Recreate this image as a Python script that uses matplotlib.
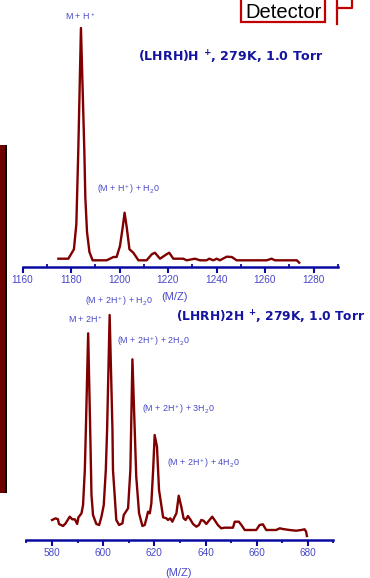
import matplotlib
matplotlib.use("Agg")
import matplotlib.pyplot as plt
from matplotlib.patches import Rectangle
from matplotlib.lines import Line2D
from matplotlib.ticker import MultipleLocator

plt.rcParams['font.family'] = ['Liberation Sans', 'DejaVu Sans']
plt.rcParams['mathtext.fontset'] = 'custom'
plt.rcParams['mathtext.rm'] = 'Liberation Sans'
plt.rcParams['mathtext.it'] = 'Liberation Sans'
plt.rcParams['mathtext.bf'] = 'DejaVu Sans:bold'

# ---------------------------------------------------------------- data ---- #
# (LHRH)H+ spectrum, 279 K, 1.0 Torr
mz_1h = [1174.8, 1178.9, 1181.2, 1182.2, 1183.0, 1184.1, 1185.5, 1185.9, 1186.6,
         1187.6, 1188.9, 1194.7, 1196.1, 1197.5, 1198.8, 1200.2, 1201.3, 1202.1,
         1203.0, 1204.1, 1205.7, 1207.8, 1211.2, 1213.3, 1214.6, 1216.7, 1219.4,
         1220.5, 1222.2, 1226.3, 1227.7, 1231.1, 1233.2, 1235.9, 1237.0, 1238.7,
         1240.1, 1241.4, 1244.2, 1246.3, 1248.3, 1260.7, 1262.7, 1264.1, 1273.1,
         1274.1]
int_1h = [8.3, 8.3, 17.7, 42.7, 116, 239, 116, 70, 35, 15, 6.7, 6.7, 8.3, 10, 10,
          21, 39.3, 54.3, 39.3, 17.7, 14.3, 6.7, 6.7, 12.7, 14.3, 8.3, 12.7, 14.3,
          8.3, 8.3, 6.7, 8.3, 6.7, 6.7, 8.3, 6.7, 8.3, 6.7, 10.3, 10, 6.7, 6.7, 8.3,
          6.7, 6.7, 4.3]

# (LHRH)2H+ spectrum, 279 K, 1.0 Torr
mz_2h = [580.0, 581.4, 582.3, 582.7, 584.3, 585.3, 586.9, 587.9, 588.9, 589.8,
         590.3, 591.5, 592.1, 592.8, 593.2, 594.1, 594.9, 595.4, 596.0, 597.3,
         598.4, 599.3, 600.2, 601.0, 601.5, 602.5, 603.6, 603.8, 604.5, 605.1,
         606.2, 607.5, 608.0, 609.7, 610.6, 611.4, 612.3, 612.9, 614.0, 615.3,
         616.2, 616.8, 617.5, 618.2, 618.8, 619.5, 620.1, 621.0, 621.8, 623.4,
         624.7, 625.3, 626.2, 627.0, 627.8, 628.6, 629.5, 630.5, 631.4, 632.2,
         633.1, 634.0, 635.1, 636.4, 637.4, 638.3, 639.2, 640.3, 641.3, 642.6,
         643.5, 644.8, 646.1, 647.4, 650.7, 651.4, 653.0, 654.0, 655.3, 659.8,
         661.1, 662.4, 663.7, 667.6, 669.0, 670.2, 672.8, 675.4, 677.4, 678.7,
         679.3, 679.6]
int_2h = [20, 21.7, 20.7, 16, 14, 16.7, 23.3, 20.7, 20.7, 16, 22.7, 26.7, 35, 70,
          110, 206.7, 110, 45, 25, 16, 15, 23.3, 35, 70, 110, 225, 110, 70, 43.3,
          20, 15, 16.7, 25, 31.7, 70, 180.7, 110, 63.3, 26.7, 14, 15, 20.7, 28.3,
          26.7, 36.7, 70, 105, 93.3, 50, 22.7, 21.7, 20, 21.7, 18.3, 22.7, 26.7,
          44.3, 33.3, 21.7, 20, 24, 20.7, 16, 13.3, 15, 20, 19.3, 16, 19.3, 23.3,
          20, 15, 11.7, 12.3, 12.3, 18.3, 18.3, 15, 10, 10, 15, 15.7, 10, 10, 11.7,
          11, 10, 9.3, 10, 10.7, 8.3, 4]

W, H = 370, 578
LINE = '#800000'
AXIS = '#0a0aa0'
LABEL = '#4848c8'
TITLE = '#1414a0'


def fx(x):
    return x / W


def fy(y):
    return 1 - y / H


def style_axis(ax, xlim, ylim, minor_dir):
    ax.set_xlim(*xlim)
    ax.set_ylim(*ylim)
    for s in ('top', 'left', 'right'):
        ax.spines[s].set_visible(False)
    ax.spines['bottom'].set_color(AXIS)
    ax.spines['bottom'].set_linewidth(1.8)
    ax.set_yticks([])
    ax.xaxis.set_major_locator(MultipleLocator(20))
    ax.xaxis.set_minor_locator(MultipleLocator(10))
    ax.tick_params(axis='x', which='major', direction='out', length=4, width=1.5,
                   color=AXIS, labelcolor=LABEL, labelsize=7.2, pad=2)
    ax.tick_params(axis='x', which='minor', direction=minor_dir, length=2.5,
                   width=1.3, color=AXIS)
    ax.patch.set_visible(False)


fig = plt.figure(figsize=(W / 100, H / 100), dpi=100)

# top panel
ax1 = fig.add_axes([fx(22.5), fy(267), fx(315.25), 250 / H])
ax1.plot(mz_1h, int_1h, color=LINE, lw=1.7)
style_axis(ax1, (1160, 1290), (0, 250), 'in')
ax1.set_xticks(range(1160, 1281, 20))
ax1.set_xticklabels([str(v) for v in range(1160, 1281, 20)])

# bottom panel
ax2 = fig.add_axes([fx(26.5), fy(540), fx(307), 230 / H])
ax2.plot(mz_2h, int_2h, color=LINE, lw=1.7)
style_axis(ax2, (570, 690), (0, 230), 'out')
ax2.set_xticks(range(580, 681, 20))

# titles
title = dict(color=TITLE, fontweight='bold', va='center', ha='left',
             family='DejaVu Sans')
fig.text(fx(138), fy(57), r'(LHRH)H $^\mathbf{+}$, 279K, 1.0 Torr', fontsize=9.1, **title)
fig.text(fx(176), fy(317), r'(LHRH)2H $^\mathbf{+}$, 279K, 1.0 Torr', fontsize=8.8, **title)

# peak labels
ann = dict(color=LABEL, fontsize=6.4, va='center', ha='left')
fig.text(fx(65), fy(16), r'M + H$^+$', **ann)
fig.text(fx(97), fy(189), r'(M + H$^+$) + H$_2$0', **ann)
fig.text(fx(85), fy(301), r'(M + 2H$^+$) + H$_2$0', **ann)
fig.text(fx(68), fy(319), r'M + 2H$^+$', **ann)
fig.text(fx(117), fy(341), r'(M + 2H$^+$) + 2H$_2$0', **ann)
fig.text(fx(142), fy(409), r'(M + 2H$^+$) + 3H$_2$0', **ann)
fig.text(fx(167), fy(463), r'(M + 2H$^+$) + 4H$_2$0', **ann)

# axis titles
fig.text(fx(175), fy(297), '(M/Z)', color=LABEL, fontsize=8, va='center', ha='center')
fig.text(fx(179), fy(573), '(M/Z)', color=LABEL, fontsize=8, va='center', ha='center')

# slide decorations: left bar and detector box
fig.patches.append(Rectangle((0, fy(493)), fx(5), 348 / H, transform=fig.transFigure,
                             facecolor='#6e0000', edgecolor='none'))
fig.patches.append(Rectangle((fx(5), fy(493)), fx(2), 348 / H, transform=fig.transFigure,
                             facecolor='black', edgecolor='none'))
fig.patches.append(Rectangle((fx(241), fy(22)), fx(84), 24 / H, transform=fig.transFigure,
                             facecolor='white', edgecolor='#c00000', lw=1.6))
fig.text(fx(283.5), fy(18), 'Detector', color='black', fontsize=14.5, va='baseline',
         ha='center')
fig.lines.append(Line2D([fx(337), fx(337)], [fy(24), fy(0)], transform=fig.transFigure,
                        color='#c00000', lw=1.6))
fig.lines.append(Line2D([fx(337), fx(352), fx(352)], [fy(8), fy(8), fy(0)],
                        transform=fig.transFigure, color='#c00000', lw=1.6))

fig.savefig('out.png', dpi=100)
